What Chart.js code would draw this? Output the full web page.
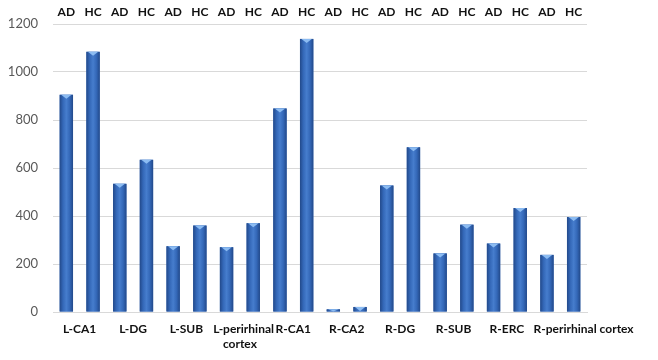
<!DOCTYPE html>
<html>
<head>
<meta charset="utf-8">
<script src="https://cdn.jsdelivr.net/npm/chart.js@4"></script>
<style>
html,body{margin:0;padding:0;background:#fff;}
#wrap{width:658px;height:360px;position:relative;}
</style>
</head>
<body>
<div id="wrap"><canvas id="c" width="658" height="360"></canvas></div>
<script>
const regions = ['L-CA1', 'L-DG', 'L-SUB', ['L-perirhinal', 'cortex'], 'R-CA1', 'R-CA2', 'R-DG', 'R-SUB', 'R-ERC', 'R-perirhinal cortex'];
const groupLabels = ['AD','HC','AD','HC','AD','HC','AD','HC','AD','HC','AD','HC','AD','HC','AD','HC','AD','HC','AD','HC'];
const adValues = [905, 534, 274, 270, 848, 11, 527, 244, 285, 238];
const hcValues = [1084, 634, 360, 370, 1138, 21, 686, 364, 433, 396];
const yTicks = [0, 200, 400, 600, 800, 1000, 1200];

const bevelPlugin = {
  id: 'bevel',
  afterDatasetsDraw(chart) {
    const ctx = chart.ctx;
    chart.data.datasets.forEach((ds, i) => {
      const meta = chart.getDatasetMeta(i);
      meta.data.forEach(el => {
        const w = el.width, x0 = el.x - w / 2, top = el.y, base = el.base;
        const h = base - top;
        if (h <= 0) return;
        const g = ctx.createLinearGradient(x0, 0, x0 + w, 0);
        g.addColorStop(0, '#22498a');
        g.addColorStop(0.25, '#3468b8');
        g.addColorStop(0.5, '#467dcd');
        g.addColorStop(0.75, '#3468b8');
        g.addColorStop(1, '#22498a');
        ctx.save();
        ctx.fillStyle = g;
        ctx.fillRect(x0, top, w, h);
        const cap = Math.min(4, h);
        ctx.fillStyle = '#8cbcf2';
        ctx.beginPath();
        ctx.moveTo(x0 + 1.5, top);
        ctx.lineTo(x0 + w - 1.5, top);
        ctx.lineTo(el.x, top + cap);
        ctx.closePath();
        ctx.fill();
        ctx.restore();
      });
    });
  }
};

const catLabelPlugin = {
  id: 'catLabels',
  afterDraw(chart) {
    const ctx = chart.ctx;
    const sc = chart.scales.x;
    const n = chart.data.labels.length;
    const slot = sc.width / n;
    ctx.save();
    ctx.font = 'bold 12px Lato';
    ctx.fillStyle = '#111';
    ctx.textBaseline = 'middle';
    ctx.textAlign = 'left';
    chart.data.labels.forEach((lab, i) => {
      const lines = Array.isArray(lab) ? lab : [lab];
      const cx = sc.getPixelForValue(i);
      const left = cx - slot / 2;
      lines.forEach((t, j) => {
        const w = ctx.measureText(t).width;
        const x = Math.max(cx - w / 2, left);
        ctx.fillText(t, x, sc.top + 17 + j * 15);
      });
    });
    ctx.restore();
  }
};

new Chart(document.getElementById('c'), {
  type: 'bar',
  data: {
    labels: regions,
    datasets: [
      { label: 'AD', data: adValues, backgroundColor: '#3468b8', borderWidth: 0, categoryPercentage: 1, barPercentage: 0.5 },
      { label: 'HC', data: hcValues, backgroundColor: '#3468b8', borderWidth: 0, categoryPercentage: 1, barPercentage: 0.5 }
    ]
  },
  options: {
    responsive: false,
    animation: false,
    devicePixelRatio: 1,
    layout: { padding: { left: 0, right: 71, top: 0, bottom: 0 } },
    plugins: { legend: { display: false }, tooltip: { enabled: false } },
    scales: {
      y: {
        min: 0, max: 1200,
        afterBuildTicks: s => { s.ticks = yTicks.map(v => ({ value: v })); },
        afterFit: s => { s.width = 53; },
        grid: { color: '#d9d9d9', lineWidth: 1, drawTicks: false },
        border: { display: false },
        ticks: { color: '#595959', font: { family: 'Lato', size: 13 }, padding: 15, callback: v => String(v) }
      },
      x: {
        position: 'bottom',
        afterFit: s => { s.height = 48; },
        grid: { display: false },
        border: { display: true, color: '#d9d9d9' },
        ticks: { display: false }
      },
      x2: {
        type: 'category',
        position: 'top',
        labels: groupLabels,
        offset: true,
        afterFit: s => { s.height = 24; },
        grid: { display: false, drawTicks: false },
        border: { display: false },
        ticks: { color: '#111', font: { family: 'Lato', size: 12, weight: 'bold' }, maxRotation: 0, minRotation: 0, autoSkip: false, padding: 5 }
      }
    }
  },
  plugins: [bevelPlugin, catLabelPlugin]
});
</script>
</body>
</html>
